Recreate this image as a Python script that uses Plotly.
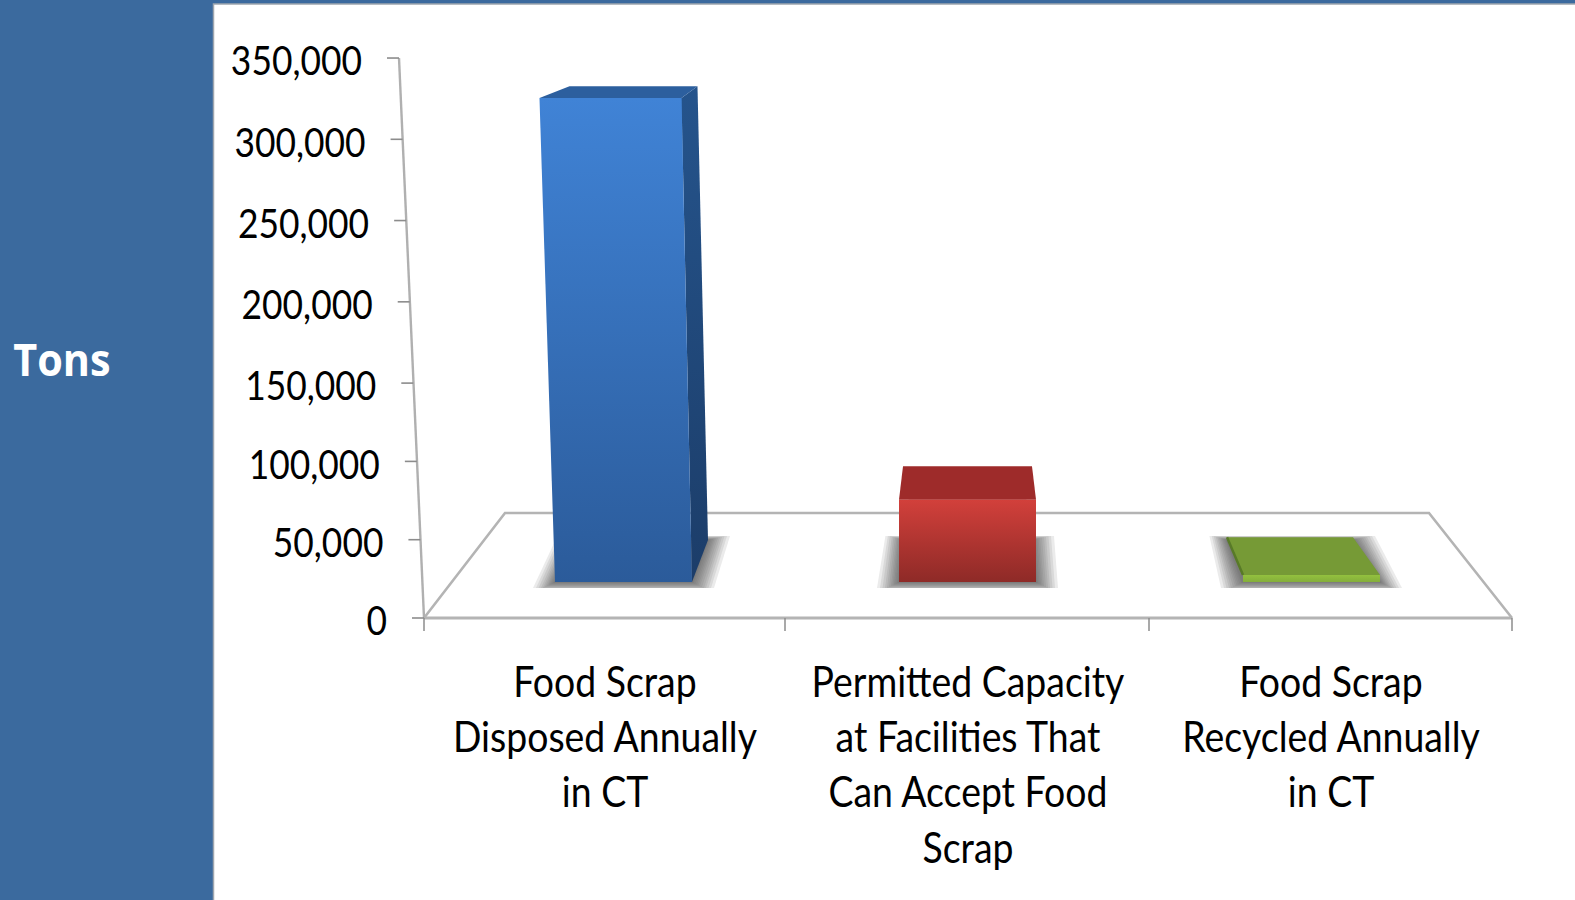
import plotly.graph_objects as go

# ---- data ----
CATEGORIES = ["Food Scrap<br>Disposed Annually<br>in CT",
              "Permitted Capacity<br>at Facilities That<br>Can Accept Food<br>Scrap",
              "Food Scrap<br>Recycled Annually<br>in CT"]
VALUES = [309000, 52500, 4500]
TICK_VALUES = [0, 50000, 100000, 150000, 200000, 250000, 300000, 350000]
TICK_LABELS = ["0", "50,000", "100,000", "150,000", "200,000", "250,000", "300,000", "350,000"]
Y_TITLE = "Tons"

# ---- layout constants (pixel-based view of the 3D projection) ----
W, H = 1575, 900
PX_X = 363.0          # pixels per category
X0 = 605.0            # pixel of category 0 label
PX_Y = 0.001566       # pixels per value unit on the wall
Y0 = 618.0            # pixel of value 0
FONT = "Lato, sans-serif"


def ux(px):  # pixel column -> x data
    return (px - X0) / PX_X


def duy(px):  # pixel height -> y data
    return px / PX_Y


def warp(v):  # slight perspective stretch of the upper wall
    return v + 0.0379 * max(0, v - 150000)


FLOOR_BASE = duy(Y0 - 582)
BASE_CENTER = [623.5, 967.5, 1311.5]
LEAN = [-0.0269, 0.0, 0.0]
FRONT_W = [137, 137, 137]
TOP_W = [142, 137, 137]
TOP_DX = [(30, 16), (4, -4), (-16, -27)]
FOOT_DX = [(20, 16), (4, -4), (-16, -27)]

FRONT_GRAD = [("#4083D6", "#2B5B9A"), ("#D2403B", "#8E2A27"), ("#93C13F", "#84AE3A")]
TOP_COLOR = ["#2C5F9E", "#9E2B2A", "#769A36"]
SIDE_GRAD = [("#25548C", "#1C3D69"), None, None]
BAR_COLOR = ["#3570B8", "#B83532", "#8AB63D"]

fig = go.Figure()


def poly(xs, ys, color=None, grad=None, opacity=1.0):
    kw = {}
    if grad:
        kw["fillgradient"] = dict(type="vertical",
                                  colorscale=[[0, grad[1]], [1, grad[0]]])
    else:
        kw["fillcolor"] = color
    fig.add_trace(go.Scatter(x=[ux(x) for x in xs] + [ux(xs[0])], y=list(ys) + [ys[0]],
                             mode="lines", fill="toself", line=dict(width=0),
                             opacity=opacity, hoverinfo="skip", **kw))


def seg(xs, ys, color, width):
    fig.add_trace(go.Scatter(x=[ux(x) for x in xs], y=ys, mode="lines",
                             line=dict(color=color, width=width), hoverinfo="skip"))


# real bars, sitting on the floor, hidden under the projected faces
fig.add_trace(go.Bar(x=[ux(c) for c in BASE_CENTER], y=VALUES, base=FLOOR_BASE,
                     width=[118 / PX_X] * 3, marker=dict(color=BAR_COLOR, line=dict(width=0)),
                     customdata=[c.replace("<br>", " ") for c in CATEGORIES],
                     hovertemplate="%{customdata}: %{y:,}<extra></extra>"))

# floor
floor_b = duy(105)
poly([424, 505, 1429, 1512], [0, floor_b, floor_b, 0], color="#FFFFFF")
seg([424, 505, 1429, 1512], [0, floor_b, floor_b, 0], "#B4B4B4", 2.6)
seg([424, 1512], [0, 0], "#B4B4B4", 3)
for c in [424, 785, 1149, 1512]:
    seg([c, c], [0, -duy(13)], "#8C8C8C", 1.5)

# wall axis
axis_x = lambda v: 424 - 25 * v / 350000
seg([axis_x(0), axis_x(350000)], [warp(0), warp(350000)], "#B0B0B0", 2.4)
for v in TICK_VALUES:
    seg([axis_x(v) - 12, axis_x(v)], [warp(v), warp(v)], "#8C8C8C", 1.6)
fig.add_trace(go.Scatter(x=[ux(axis_x(v) - 37) for v in TICK_VALUES],
                         y=[warp(v) - duy(7) for v in TICK_VALUES],
                         text=TICK_LABELS, mode="text", textposition="middle left",
                         textfont=dict(family=FONT, size=41, color="#000000"),
                         hoverinfo="skip"))

# bars in projection
SHADOW_STEPS = [22, 19, 16.5, 14, 12, 10, 8, 6.5, 5, 3.5, 2, 1]
for i, val in enumerate(VALUES):
    h = val * PX_Y
    bc, fw, tw = BASE_CENTER[i], FRONT_W[i], TOP_W[i]
    tc = bc + LEAN[i] * h
    bl, br = bc - fw / 2, bc + fw / 2
    tl, tr = tc - tw / 2, tc + tw / 2
    y_bot, y_top = FLOOR_BASE, FLOOR_BASE + val
    depth = 38 - 0.054 * h
    y_back = y_top + duy(depth)
    dl, dr = TOP_DX[i]
    fl, fr = FOOT_DX[i]
    back_bot = FLOOR_BASE + duy(42)

    # soft shadow on the floor
    for e in SHADOW_STEPS:
        down = duy(min(e * 0.5, 6))
        up = duy(min(e * 0.22, 4))
        poly([bl - e, bl + fl - e * 0.8, br + fr + e, br + e],
             [FLOOR_BASE - down, back_bot + up, back_bot + up, FLOOR_BASE - down],
             color="#5E5E5E", opacity=0.12)

    # side face of the blue bar, thin dark left edge of the green one
    if i == 0:
        poly([tr, tr + dr, br + fr, br], [y_top, y_back, back_bot, y_bot],
             grad=SIDE_GRAD[0])

    # top and front faces
    poly([tl, tl + dl, tr + dr, tr], [y_top, y_back, y_back, y_top], color=TOP_COLOR[i])
    if i == 2:
        seg([tl, tl + dl], [y_top, y_back], "#587A28", 2.5)
    poly([bl, tl, tr, br], [y_bot, y_top, y_top, y_bot], grad=FRONT_GRAD[i])

# category labels
fig.add_trace(go.Scatter(x=[0, 1, 2], y=[-duy(47)] * 3, text=CATEGORIES, mode="text",
                         textposition="bottom center",
                         textfont=dict(family=FONT, size=42.5, color="#000000"),
                         hoverinfo="skip"))

fig.update_layout(
    width=W, height=H, autosize=False,
    margin=dict(l=0, r=0, t=0, b=0, pad=0),
    paper_bgcolor="#3B6A9E", plot_bgcolor="#3B6A9E",
    showlegend=False,
    xaxis=dict(range=[ux(0), ux(W)], visible=False, fixedrange=True),
    yaxis=dict(range=[duy(Y0 - H), duy(Y0)], visible=False, fixedrange=True),
    shapes=[dict(type="rect", xref="paper", yref="paper", layer="below",
                 x0=213.5 / W, x1=1.002, y0=-0.002, y1=1 - 4 / H,
                 fillcolor="#FFFFFF", line=dict(color="#9FA6AE", width=1.5))],
    annotations=[dict(text=f"<b>{Y_TITLE}</b>", xref="paper", yref="paper",
                      x=62 / W, y=1 - 359 / H, xanchor="center", yanchor="middle",
                      showarrow=False,
                      font=dict(family="Open Sans, sans-serif", size=45, color="#FFFFFF"))],
)

# the original's type is a condensed face: squeeze the real text horizontally
SQUEEZE = """
document.body.style.margin='0';document.body.style.overflow='hidden';
function squeeze(sel,s){document.querySelectorAll(sel).forEach(function(t){
  var x=parseFloat(t.getAttribute('x'))||0, old=t.getAttribute('transform')||'';
  t.setAttribute('transform','translate('+x+' 0) scale('+s+' 1) translate('+(-x)+' 0) '+old);});}
squeeze('.textpoint text[text-anchor="end"]',0.863);
squeeze('.textpoint text[text-anchor="middle"]',0.88);
squeeze('.annotation-text',0.92);
"""
fig.write_html("out.html", config=dict(displayModeBar=False), post_script=SQUEEZE)
